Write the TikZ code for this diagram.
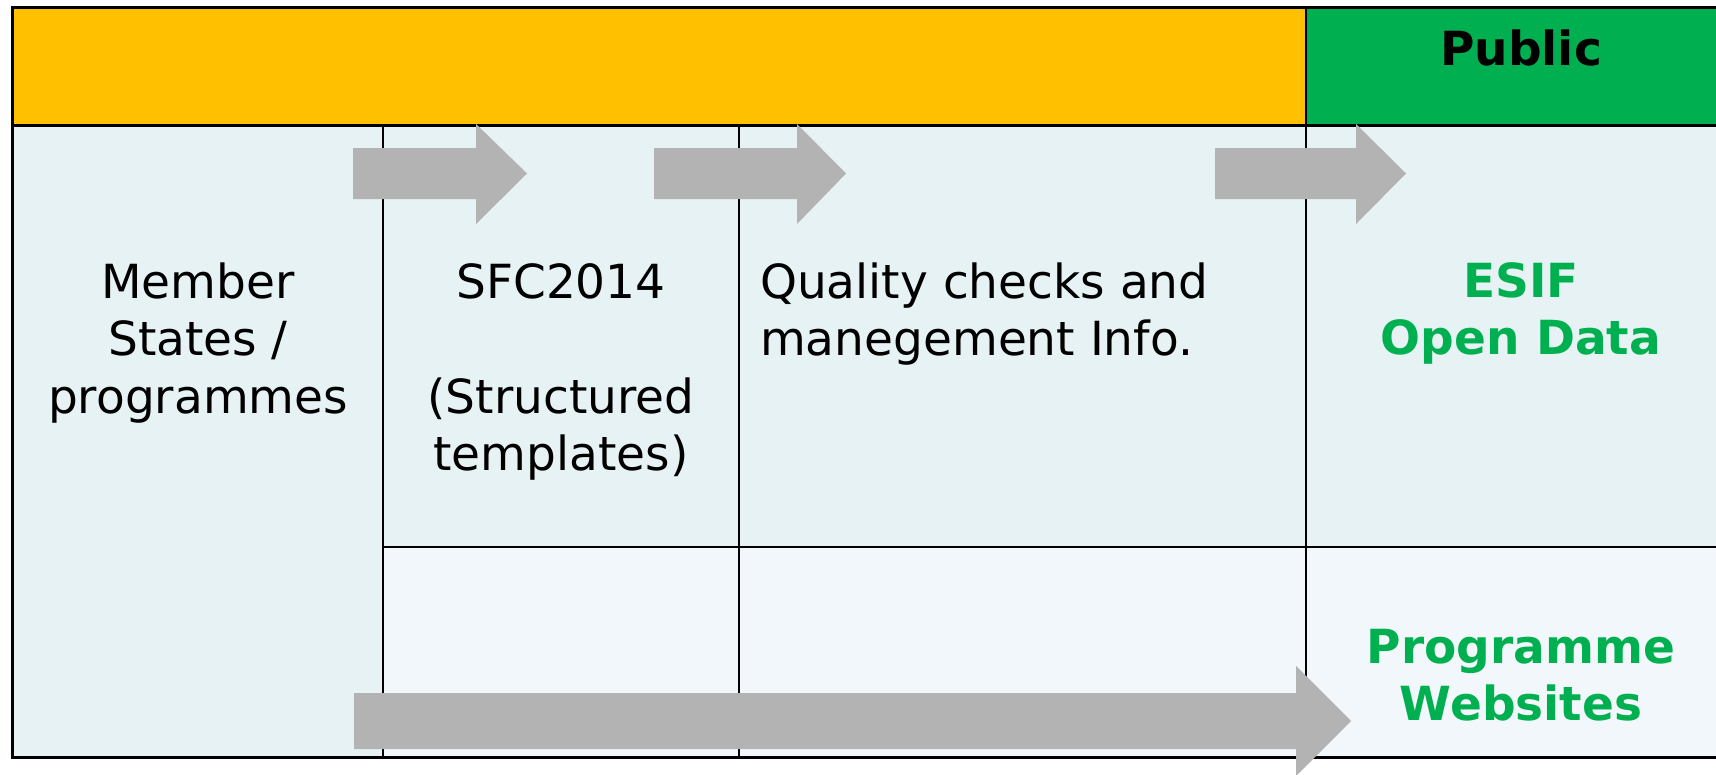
\documentclass[tikz,border=0pt]{standalone}
\usepackage{fontspec}
\setmainfont{DejaVu Sans}
\definecolor{hdrorange}{HTML}{FFC000}
\definecolor{hdrgreen}{HTML}{00B050}
\definecolor{cellblue}{HTML}{E6F2F4}
\definecolor{celllight}{HTML}{F1F7FA}
\definecolor{arrowgray}{HTML}{B3B3B3}
\definecolor{txtgreen}{HTML}{00B050}
\tikzset{
  txt/.style={inner sep=0pt, font=\fontsize{47}{57.5}\selectfont},
  bold/.style={txt, font=\fontsize{47}{57.5}\selectfont\bfseries},
  grid/.style={draw=black, line width=2pt},
  outer/.style={draw=black, line width=3pt},
  blockarrow/.style={fill=arrowgray, draw=none},
}
\begin{document}
\begin{tikzpicture}[x=1pt,y=-1pt]
\useasboundingbox (0,0) rectangle (1716,774);
\clip (0,0) rectangle (1716,774);
% fills
\fill[hdrorange] (12,7) rectangle (1306,125);
\fill[hdrgreen] (1306,7) rectangle (1740,125);
\fill[cellblue] (12,125) rectangle (383,757);
\fill[cellblue] (383,125) rectangle (1740,547);
\fill[celllight] (383,547) rectangle (1740,757);
% grid
\draw[grid] (383,125) -- (383,757);
\draw[grid] (739,125) -- (739,757);
\draw[grid] (1306,7) -- (1306,757);
\draw[grid] (383,547) -- (1740,547);
\draw[outer] (12,125) -- (1740,125);
\draw[outer] (1740,7) -- (12,7) -- (12,757) -- (1740,757);
% arrows
\fill[blockarrow] (353,148) -- (476,148) -- (476,124) -- (527,173.5) -- (476,224) -- (476,199) -- (353,199) -- cycle;
\fill[blockarrow] (654,148) -- (797,148) -- (797,124) -- (846,173.5) -- (797,224) -- (797,199) -- (654,199) -- cycle;
\fill[blockarrow] (1215,148) -- (1356,148) -- (1356,124) -- (1406,173.5) -- (1356,224) -- (1356,199) -- (1215,199) -- cycle;
\fill[blockarrow] (354,693) -- (1296,693) -- (1296,666) -- (1351,721) -- (1296,776) -- (1296,749) -- (354,749) -- cycle;
% texts
\node[bold, anchor=base] (public) at (1521,65) {Public};
\node[txt, anchor=north, align=center] (member) at (198,257.75) {\strut Member\\States /\\programmes};
\node[txt, anchor=north, align=center] (sfc) at (561,257.75) {\strut SFC2014\\\strut\\(Structured\\templates)};
\node[txt, anchor=north west, align=left] (quality) at (760,257.75) {\strut Quality checks and\\manegement Info.};
\node[bold, anchor=north, align=center, text=txtgreen] (esif) at (1521,256.75) {\strut ESIF\\Open Data};
\node[bold, anchor=north, align=center, text=txtgreen] (web) at (1521,622.75) {\strut Programme\\Websites};
\end{tikzpicture}
\end{document}
